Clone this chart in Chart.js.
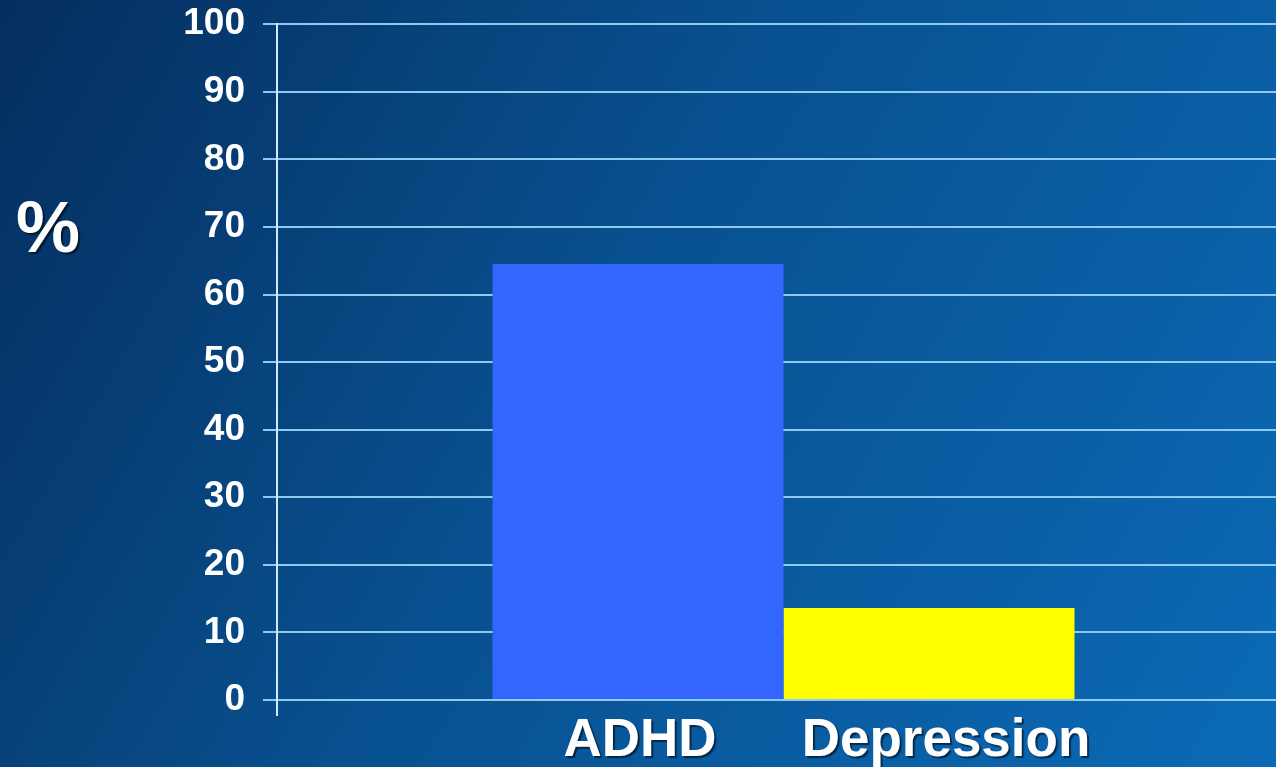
<!DOCTYPE html>
<html>
<head>
<meta charset="utf-8">
<script src="https://cdn.jsdelivr.net/npm/chart.js@4"></script>
<style>
    html, body {
        margin: 0;
        padding: 0;
        width: 1276px;
        height: 767px;
        overflow: hidden;
        background: linear-gradient(120deg, #052e5e 0%, #08508f 45%, #0b6ab6 100%);
    }
    #wrap {
        position: absolute;
        left: 0;
        top: -16px;
        width: 1290px;
        height: 783px;
    }
</style>
</head>
<body>
<div id="wrap"><canvas id="chart"></canvas></div>
<script>
// 数据
const categories = ['ADHD', 'Depression'];
const values = [64.5, 13.6];
const barColors = ['#3366ff', '#ffff00'];
const yTitle = '%';

// 柱子下方的类别文字 + 纵轴标题
const labelPlugin = {
    id: 'labelPlugin',
    afterDraw(chart) {
        const ctx = chart.ctx;
        ctx.save();
        ctx.fillStyle = '#ffffff';
        ctx.shadowColor = 'rgba(0, 0, 0, 0.55)';
        ctx.shadowOffsetX = 2;
        ctx.shadowOffsetY = 2;
        ctx.shadowBlur = 1;
        ctx.textAlign = 'center';
        ctx.textBaseline = 'alphabetic';
        ctx.font = 'bold 53px "Liberation Sans", Arial, sans-serif';
        chart.data.datasets.forEach((ds, i) => {
            const bar = chart.getDatasetMeta(i).data[0];
            ctx.fillText(ds.label, bar.x + (i === 1 ? 17 : 2), chart.chartArea.bottom + 56);
        });
        ctx.font = 'bold 72px "Liberation Sans", Arial, sans-serif';
        ctx.fillText(yTitle, 48, 268);
        ctx.restore();
    }
};

const ctx = document.getElementById('chart').getContext('2d');
new Chart(ctx, {
    type: 'bar',
    data: {
        labels: [''],
        datasets: categories.map((name, i) => ({
            label: name,
            data: [values[i]],
            backgroundColor: barColors[i],
            borderWidth: 0
        }))
    },
    options: {
        responsive: true,
        maintainAspectRatio: false,
        animation: false,
        layout: {
            padding: { top: 7, right: 0, bottom: 0, left: 0 }
        },
        plugins: {
            legend: { display: false },
            tooltip: { enabled: false }
        },
        datasets: {
            bar: {
                categoryPercentage: 0.5745,
                barPercentage: 1
            }
        },
        scales: {
            x: {
                ticks: { display: false },
                grid: {
                    display: true,
                    drawOnChartArea: false,
                    drawTicks: true,
                    tickLength: 16,
                    color: '#cfe9ff',
                    lineWidth: 2
                },
                border: { display: false },
                afterFit(scale) { scale.height = 67; }
            },
            y: {
                min: 0,
                max: 100,
                ticks: {
                    stepSize: 10,
                    color: '#ffffff',
                    padding: 18,
                    font: { family: '"Liberation Sans", Arial, sans-serif', size: 37, weight: 'bold' }
                },
                grid: {
                    color: '#8ccaf2',
                    lineWidth: 2,
                    tickLength: 14
                },
                border: { color: '#cfe9ff', width: 2 },
                afterFit(scale) { scale.width = 277; }
            }
        }
    },
    plugins: [labelPlugin]
});
</script>
</body>
</html>
